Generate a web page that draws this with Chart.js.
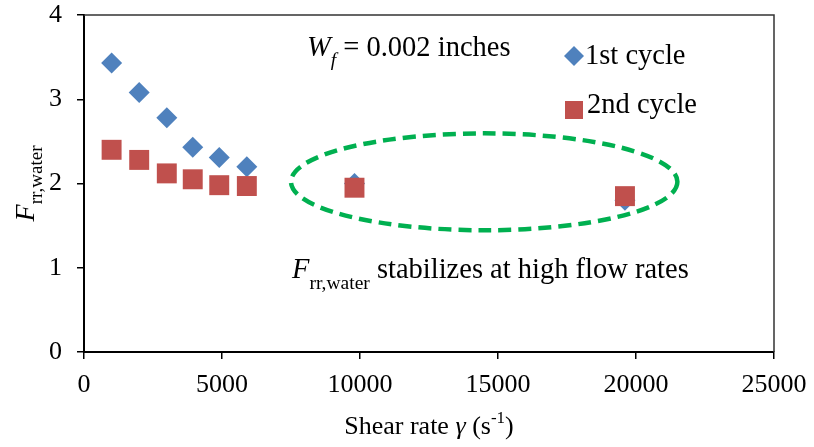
<!DOCTYPE html>
<html>
<head>
<meta charset="utf-8">
<script src="https://cdn.jsdelivr.net/npm/chart.js@4"></script>
<style>
  body { margin: 0; background: #fff; }
  #wrap { width: 814px; height: 447px; position: relative; }
</style>
</head>
<body>
<div id="wrap"><canvas id="shearChart"></canvas></div>
<script>
// values
const shearRate = [1000, 2000, 3000, 3940, 4900, 5900, 9800, 19600];
const firstCycle = [3.43, 3.08, 2.78, 2.43, 2.31, 2.20, 2.00, 1.80];
const secondCycle = [2.40, 2.28, 2.12, 2.05, 1.98, 1.97, 1.95, 1.85];
const xTicks = [0, 5000, 10000, 15000, 20000, 25000];
const yTicks = [0, 1, 2, 3, 4];
const seriesNames = ["1st cycle", "2nd cycle"];

// dashed ellipse around the high shear points (data units)
const ellipse = { cx: 14500, cy: 2.02, rx: 7000, ry: 0.575 };

const serif = "'Liberation Serif', 'Times New Roman', serif";
const blue = "#4f81bd";
const red = "#c0504d";

function toPoints(xs, ys) {
    return xs.map((x, i) => ({ x: x, y: ys[i] }));
}

// draw a row of text pieces: [text, size, italic, yShift]
function richText(ctx, x, y, parts, align) {
    let total = 0;
    parts.forEach(p => {
        ctx.font = (p[2] ? "italic " : "") + p[1] + "px " + serif;
        total += ctx.measureText(p[0]).width;
    });
    let cx = align === "center" ? x - total / 2 : x;
    ctx.textAlign = "left";
    ctx.textBaseline = "alphabetic";
    parts.forEach(p => {
        ctx.font = (p[2] ? "italic " : "") + p[1] + "px " + serif;
        ctx.fillText(p[0], cx, y + (p[3] || 0));
        cx += ctx.measureText(p[0]).width;
    });
}

const extras = {
    id: "extras",
    beforeDatasetsDraw(chart) {
        const ctx = chart.ctx;
        const a = chart.chartArea;
        ctx.save();
        ctx.strokeStyle = "#333";
        ctx.lineWidth = 1.5;
        ctx.beginPath();
        ctx.moveTo(a.left, a.top);
        ctx.lineTo(a.right, a.top);
        ctx.lineTo(a.right, a.bottom);
        ctx.stroke();
        ctx.restore();
    },
    afterDraw(chart) {
        const ctx = chart.ctx;
        const xs = chart.scales.x, ys = chart.scales.y;
        ctx.save();
        ctx.fillStyle = "#000";

        // ellipse
        const px = xs.getPixelForValue(ellipse.cx);
        const py = ys.getPixelForValue(ellipse.cy);
        const prx = xs.getPixelForValue(ellipse.cx + ellipse.rx) - px;
        const pry = py - ys.getPixelForValue(ellipse.cy + ellipse.ry);
        ctx.strokeStyle = "#00b050";
        ctx.lineWidth = 4.5;
        ctx.setLineDash([13, 7]);
        ctx.beginPath();
        ctx.ellipse(px, py, prx, pry, 0, 0, Math.PI * 2);
        ctx.stroke();
        ctx.setLineDash([]);

        // annotations
        richText(ctx, 307, 56, [["W", 28.5, true], ["f", 19.5, true, 10], [" = 0.002 inches", 28.5, false]]);
        richText(ctx, 292, 278, [["F", 28.5, true], ["rr,water", 19.5, false, 11], [" stabilizes at high flow rates", 28.5, false]]);

        // legend
        ctx.fillStyle = blue;
        ctx.beginPath();
        ctx.moveTo(574, 46); ctx.lineTo(584, 56); ctx.lineTo(574, 66); ctx.lineTo(564, 56);
        ctx.closePath();
        ctx.fill();
        ctx.fillStyle = red;
        ctx.fillRect(565, 101, 18, 18);
        ctx.fillStyle = "#000";
        richText(ctx, 585, 64, [[seriesNames[0], 28.5, false]]);
        richText(ctx, 587, 113, [[seriesNames[1], 28.5, false]]);

        // x axis title
        const a = chart.chartArea;
        richText(ctx, (a.left + a.right) / 2, 434, [["Shear rate ", 26, false], ["\u03b3", 26, true], [" (s", 26, false], ["-1", 17, false, -11], [")", 26, false]], "center");

        // y axis title
        ctx.translate(34, (a.top + a.bottom) / 2);
        ctx.rotate(-Math.PI / 2);
        richText(ctx, 0, 0, [["F", 28, true], ["rr,water", 19, false, 8]], "center");
        ctx.restore();
    }
};

new Chart(document.getElementById("shearChart"), {
    type: "scatter",
    data: {
        datasets: [
            {
                label: seriesNames[0],
                data: toPoints(shearRate, firstCycle),
                pointStyle: "rectRot",
                pointRadius: 10.5,
                pointHoverRadius: 10.5,
                backgroundColor: blue,
                borderColor: blue,
                borderWidth: 0,
                order: 1
            },
            {
                label: seriesNames[1],
                data: toPoints(shearRate, secondCycle),
                pointStyle: "rect",
                pointRadius: 14.1,
                pointHoverRadius: 14.1,
                backgroundColor: red,
                borderColor: red,
                borderWidth: 0,
                order: 0
            }
        ]
    },
    options: {
        responsive: true,
        maintainAspectRatio: false,
        animation: false,
        layout: { padding: { top: 15, right: 40, left: 0, bottom: 0 } },
        plugins: { legend: { display: false }, tooltip: { enabled: false } },
        scales: {
            x: {
                type: "linear",
                min: 0,
                max: 25000,
                afterBuildTicks: s => { s.ticks = xTicks.map(v => ({ value: v })); },
                afterFit: s => { s.height = 95; s.paddingLeft = 0; s.paddingRight = 0; },
                ticks: {
                    color: "#000",
                    font: { family: serif, size: 26 },
                    padding: 11,
                    maxRotation: 0,
                    callback: v => String(v)
                },
                grid: { drawOnChartArea: false, color: "#000", tickLength: 7, lineWidth: 1.5 },
                border: { color: "#000", width: 2 }
            },
            y: {
                min: 0,
                max: 4,
                afterBuildTicks: s => { s.ticks = yTicks.map(v => ({ value: v })); },
                afterFit: s => { s.width = 84; s.paddingTop = 0; s.paddingBottom = 0; },
                ticks: {
                    color: "#000",
                    font: { family: serif, size: 26 },
                    padding: 15,
                    callback: v => String(v)
                },
                grid: { drawOnChartArea: false, color: "#000", tickLength: 7, lineWidth: 1.5 },
                border: { color: "#000", width: 2 }
            }
        }
    },
    plugins: [extras]
});
</script>
</body>
</html>
